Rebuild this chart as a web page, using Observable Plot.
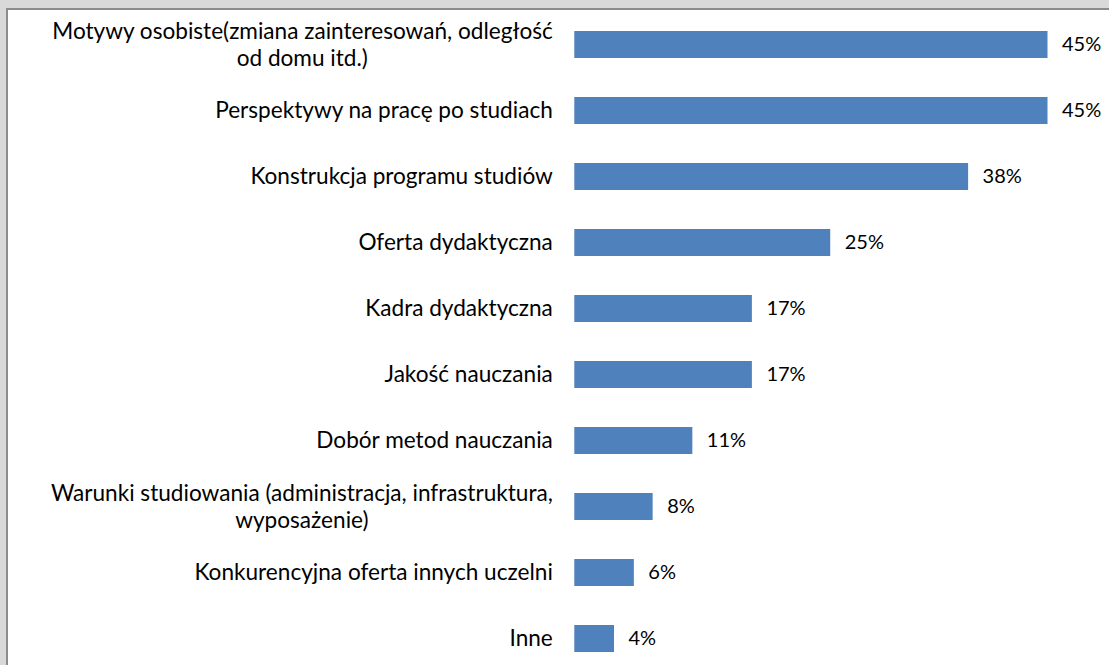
<!DOCTYPE html>
<html>
<head>
<meta charset="utf-8">
<script src="https://cdn.jsdelivr.net/npm/d3@7"></script>
<script src="https://cdn.jsdelivr.net/npm/@observablehq/plot@0.6"></script>
<style>
  html, body { margin: 0; padding: 0; }
  body { width: 1109px; height: 665px; background: #d9d9d9; position: relative; overflow: hidden; }
  #panel { position: absolute; left: 6px; top: 8px; right: 0; bottom: 0; background: #ffffff;
           border-left: 2px solid #8c8c8c; border-top: 2px solid #8c8c8c; }
  #chart { position: absolute; left: 0; top: 0; }
</style>
</head>
<body>
<div id="panel"></div>
<div id="chart"></div>
<script>
const categories = [
  "Motywy osobiste(zmiana zainteresowań, odległość\nod domu itd.)",
  "Perspektywy na pracę po studiach",
  "Konstrukcja programu studiów",
  "Oferta dydaktyczna",
  "Kadra dydaktyczna",
  "Jakość nauczania",
  "Dobór metod nauczania",
  "Warunki studiowania (administracja, infrastruktura,\nwyposażenie)",
  "Konkurencyjna oferta innych uczelni",
  "Inne"
];
const values = [45.3, 45.3, 37.7, 24.5, 17.0, 17.0, 11.3, 7.5, 5.7, 3.8];

const FONT = "Lato";
const CAT_SIZE = 22.6;
const VAL_SIZE = 20;

const data = categories.map((c, i) => {
  const parts = c.split("\n");
  return {cat: c, value: values[i], line1: parts[0], line2: parts[1] || null};
});
const single = data.filter(d => !d.line2);
const wrapped = data.filter(d => d.line2);

const ctx = document.createElement("canvas").getContext("2d");
ctx.font = `${CAT_SIZE}px ${FONT}`;
const measure = s => ctx.measureText(s).width;

const LABEL_DX = -22;

const wrappedMarks = wrapped.flatMap(d => [
  Plot.text([d], {x: () => 0, y: "cat", text: "line1", textAnchor: "end", dx: LABEL_DX, dy: -13,
                  fontSize: CAT_SIZE, fill: "#000"}),
  Plot.text([d], {x: () => 0, y: "cat", text: "line2", textAnchor: "middle",
                  dx: LABEL_DX - measure(d.line1) / 2, dy: 14, fontSize: CAT_SIZE, fill: "#000"})
]);

const chart = Plot.plot({
  width: 1109,
  height: 665,
  margin: 0,
  style: {background: "transparent", fontFamily: FONT, color: "#000"},
  x: {domain: [0, 50], range: [574.3, 574.3 + 50 * 10.446], axis: null},
  y: {type: "band", domain: categories, range: [8.8, 673.2], paddingInner: 0.594, paddingOuter: 0.297, axis: null},
  marks: [
    Plot.barX(data, {x: "value", y: "cat", fill: "#4f81bd"}),
    Plot.ruleX([0], {stroke: "#a6a6a6", strokeWidth: 2, y1: 8.8, y2: 665}),
    Plot.text(data, {x: "value", y: "cat", text: d => Math.round(d.value) + "%", textAnchor: "start",
                     dx: 14, fontSize: VAL_SIZE, fill: "#000"}),
    Plot.text(single, {x: () => 0, y: "cat", text: "line1", textAnchor: "end", dx: LABEL_DX,
                       fontSize: CAT_SIZE, fill: "#000"}),
    ...wrappedMarks
  ]
});
document.getElementById("chart").appendChild(chart);
</script>
</body>
</html>
